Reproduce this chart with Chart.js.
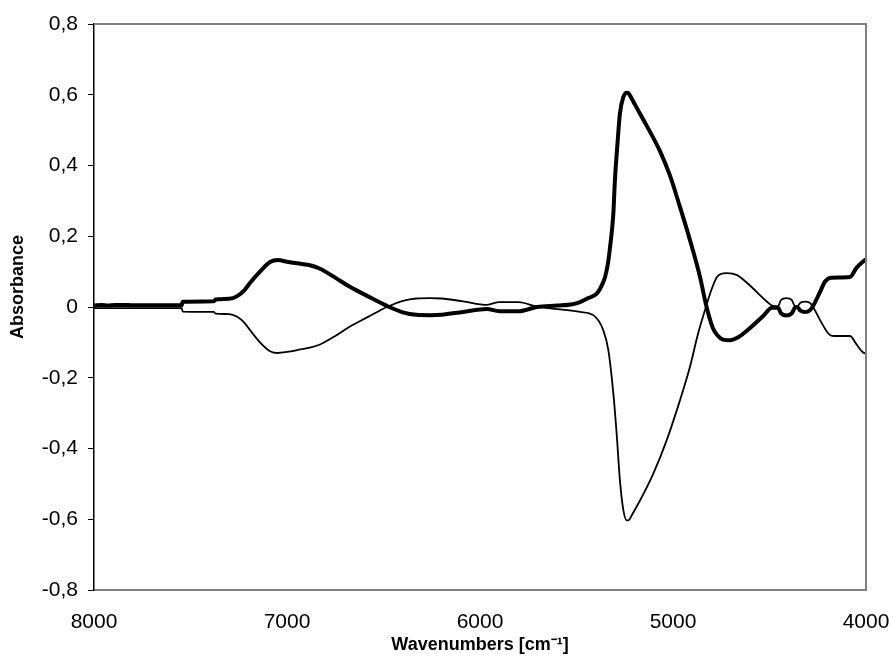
<!DOCTYPE html>
<html>
<head>
<meta charset="utf-8">
<title>Absorbance spectrum</title>
<script src="https://cdn.jsdelivr.net/npm/chart.js@4.4.1/dist/chart.umd.min.js"></script>
<style>
  html, body { margin: 0; padding: 0; background: #fff; }
  .wrap { position: relative; width: 893px; height: 658px; }
</style>
</head>
<body>
<div class="wrap"><canvas id="chart"></canvas></div>
<script>
// thick trace (wavenumber, absorbance)
const thickX = [8000, 7960, 7930, 7890, 7850, 7800, 7546, 7540, 7380, 7370, 7300, 7260, 7220, 7192, 7140, 7088, 7047, 7000, 6930, 6881, 6829, 6750, 6674, 6580, 6482, 6400, 6330, 6260, 6200, 6088, 5964, 5900, 5800, 5705, 5600, 5520, 5482, 5440, 5395, 5370, 5352, 5338, 5326, 5309, 5301, 5289, 5275, 5257, 5240, 5232, 5215, 5197, 5136, 5067, 5016, 4964, 4912, 4860, 4826, 4793, 4765, 4741, 4705, 4660, 4617, 4534, 4487, 4456, 4440, 4412, 4385, 4368, 4357, 4340, 4315, 4292, 4275, 4238, 4212, 4180, 4083, 4050, 4016, 4000];
const thickY = [0.004, 0.006, 0.004, 0.006, 0.006, 0.005, 0.005, 0.015, 0.016, 0.021, 0.023, 0.030, 0.048, 0.068, 0.100, 0.127, 0.133, 0.128, 0.122, 0.118, 0.108, 0.083, 0.057, 0.030, 0.003, -0.015, -0.022, -0.023, -0.022, -0.014, -0.006, -0.012, -0.012, 0.000, 0.004, 0.008, 0.014, 0.025, 0.038, 0.060, 0.085, 0.120, 0.170, 0.265, 0.358, 0.452, 0.547, 0.594, 0.606, 0.605, 0.590, 0.572, 0.512, 0.440, 0.372, 0.283, 0.189, 0.085, 0.000, -0.060, -0.083, -0.092, -0.094, -0.085, -0.067, -0.026, -0.002, -0.002, -0.018, -0.024, -0.018, -0.002, 0.000, -0.010, -0.014, -0.010, 0.002, 0.043, 0.072, 0.083, 0.085, 0.110, 0.128, 0.135];

// thin trace (wavenumber, absorbance)
const thinX = [8000, 7546, 7540, 7380, 7370, 7300, 7260, 7220, 7192, 7140, 7088, 7047, 7000, 6930, 6881, 6829, 6750, 6674, 6580, 6482, 6400, 6330, 6260, 6200, 6088, 5964, 5900, 5800, 5705, 5600, 5482, 5413, 5361, 5335, 5309, 5292, 5275, 5257, 5240, 5232, 5210, 5171, 5102, 5033, 4964, 4912, 4870, 4835, 4800, 4772, 4740, 4720, 4668, 4600, 4513, 4482, 4456, 4440, 4412, 4385, 4368, 4357, 4340, 4315, 4292, 4275, 4238, 4187, 4160, 4083, 4050, 4016, 4000];
const thinY = [-0.003, -0.003, -0.013, -0.014, -0.019, -0.020, -0.027, -0.045, -0.065, -0.100, -0.125, -0.130, -0.127, -0.120, -0.115, -0.106, -0.082, -0.055, -0.028, 0.000, 0.017, 0.024, 0.025, 0.024, 0.016, 0.006, 0.014, 0.014, 0.001, -0.006, -0.014, -0.023, -0.066, -0.122, -0.245, -0.358, -0.490, -0.575, -0.603, -0.603, -0.585, -0.547, -0.471, -0.377, -0.264, -0.169, -0.075, -0.010, 0.050, 0.085, 0.095, 0.096, 0.090, 0.060, 0.015, 0.003, 0.002, 0.020, 0.025, 0.020, 0.002, 0.001, 0.012, 0.015, 0.012, 0.001, -0.037, -0.079, -0.082, -0.082, -0.105, -0.128, -0.132];

const xTicks = [8000, 7000, 6000, 5000, 4000];
const yMin = -0.8, yMax = 0.8, yStep = 0.2;

const toPoints = (xs, ys) => xs.map((x, i) => ({ x, y: ys[i] }));

// grey frame on top and right of the plot area
const framePlugin = {
  id: 'frame',
  afterDraw(chart) {
    const { ctx, chartArea: a } = chart;
    ctx.save();
    ctx.strokeStyle = '#808080';
    ctx.lineWidth = 2;
    ctx.beginPath();
    ctx.moveTo(a.left, a.top);
    ctx.lineTo(a.right, a.top);
    ctx.lineTo(a.right, a.bottom);
    ctx.stroke();
    ctx.restore();
  },
};

const tickFont = { family: '"Liberation Sans", Arial, sans-serif', size: 21 };
const titleFont = { family: '"Liberation Sans", Arial, sans-serif', size: 18, weight: 'bold' };

new Chart(document.getElementById('chart'), {
  type: 'line',
  data: {
    datasets: [
      {
        label: 'thick',
        data: toPoints(thickX, thickY),
        borderColor: '#000',
        borderWidth: 4,
        pointRadius: 0,
        cubicInterpolationMode: 'monotone',
        fill: false,
      },
      {
        label: 'thin',
        data: toPoints(thinX, thinY),
        borderColor: '#000',
        borderWidth: 1.8,
        pointRadius: 0,
        cubicInterpolationMode: 'monotone',
        fill: false,
      },
    ],
  },
  options: {
    responsive: true,
    maintainAspectRatio: false,
    animation: false,
    layout: { padding: { top: 24, right: 27, left: 0, bottom: 0 } },
    plugins: { legend: { display: false }, tooltip: { enabled: false } },
    scales: {
      x: {
        type: 'linear',
        reverse: true,
        min: 4000,
        max: 8000,
        afterBuildTicks: (s) => { s.ticks = xTicks.map(v => ({ value: v })); },
        afterFit: (s) => {
          s.height = 68;
          // end labels fit inside the layout padding already
          s.paddingLeft = 0;
          s.paddingRight = 0;
        },
        grid: { display: false, drawTicks: false },
        border: { color: '#808080', width: 2 },
        ticks: {
          color: '#000',
          font: tickFont,
          padding: 20,
          maxRotation: 0,
          callback: (v) => String(v),
        },
        title: {
          display: true,
          text: 'Wavenumbers [cm\u207B\u00B9]',
          color: '#000',
          font: titleFont,
          padding: { top: 0, bottom: 2 },
        },
      },
      y: {
        min: yMin,
        max: yMax,
        afterFit: (s) => { s.width = 94; },
        grid: { drawOnChartArea: false, drawTicks: true, tickLength: 6, color: '#000', lineWidth: 1 },
        border: { color: '#000', width: 1.5 },
        ticks: {
          stepSize: yStep,
          color: '#000',
          font: tickFont,
          padding: 10,
          callback: (v) => Math.abs(v) < 1e-9 ? '0' : v.toFixed(1).replace('.', ','),
        },
        title: {
          display: true,
          text: '        Absorbance',
          color: '#000',
          font: titleFont,
          padding: { top: 7, bottom: 0 },
        },
      },
    },
  },
  plugins: [framePlugin],
});
</script>
</body>
</html>
